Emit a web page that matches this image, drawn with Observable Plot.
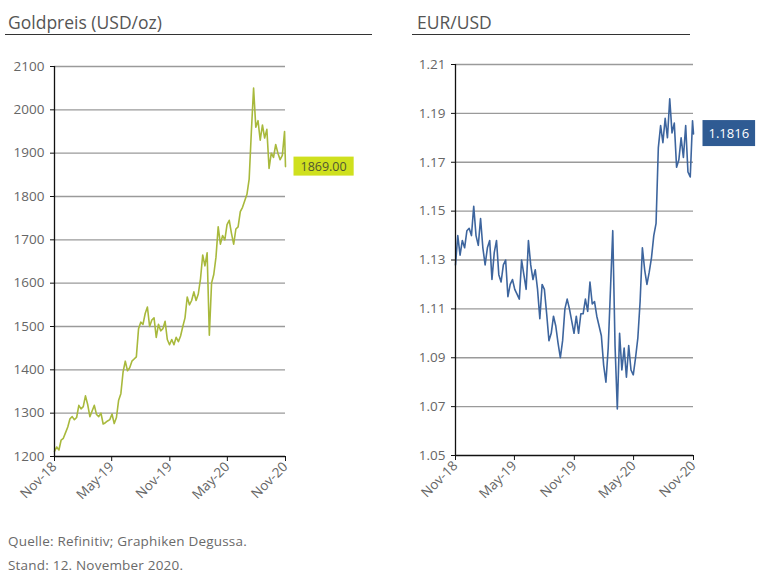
<!DOCTYPE html>
<html><head><meta charset="utf-8">
<script src="https://cdn.jsdelivr.net/npm/d3@7"></script>
<script src="https://cdn.jsdelivr.net/npm/@observablehq/plot@0.6"></script>
<style>
body{margin:0;background:#fff;font-family:"Open Sans",sans-serif;}
#page{position:relative;width:775px;height:585px;overflow:hidden;background:#fff;}
.title{position:absolute;top:10px;font-size:17.5px;color:#555;border-bottom:1.5px solid #333;line-height:24px;padding-left:3px;box-sizing:border-box;}
.chart{position:absolute;top:0;}
.foot{position:absolute;left:8px;font-size:13.5px;color:#6a6a6a;line-height:16px;letter-spacing:0.2px;}
</style></head>
<body><div id="page">
<div class="title" style="left:5px;width:367px;">Goldpreis (USD/oz)</div>
<div class="title" style="left:412px;width:278px;padding-left:5px;">EUR/USD</div>
<div class="chart" id="gold" style="left:0px;"></div>
<div class="chart" id="eur" style="left:380px;"></div>
<div class="foot" style="top:533px;">Quelle: Refinitiv; Graphiken Degussa.</div>
<div class="foot" style="top:557px;">Stand: 12. November 2020.</div>
</div>
<script>
// weekly observations (Mondays from 2018-11-12) plus the final value on 2020-11-12
const startDate = "2018-11-12";
const endDate = "2020-11-12";
const xTickDates = ["2018-11-12", "2019-05-12", "2019-11-12", "2020-05-12", "2020-11-12"];

const goldValues = [
 1212,1222,1215,1238,1242,1255,1268,1287,1292,1285,1290,1318,1310,1315,1340,1320,
 1292,1305,1318,1297,1292,1300,1275,1278,1282,1285,1298,1276,1290,1330,1345,1395,
 1420,1398,1405,1420,1425,1430,1495,1510,1505,1530,1545,1500,1515,1520,1475,1505,
 1490,1495,1512,1470,1458,1470,1458,1475,1465,1478,1500,1520,1568,1550,1560,1580,
 1560,1575,1610,1665,1640,1670,1480,1600,1620,1660,1730,1690,1710,1700,1735,1745,
 1715,1690,1725,1730,1765,1775,1790,1805,1840,1950,2050,1960,1975,1930,1965,1935,
 1955,1865,1900,1890,1920,1900,1885,1895,1950,1869
];
const eurValues = [
 1.128,1.140,1.132,1.138,1.135,1.142,1.143,1.140,1.152,1.140,1.136,1.147,1.135,1.128,1.135,1.138,
 1.122,1.133,1.138,1.124,1.121,1.128,1.130,1.115,1.120,1.122,1.118,1.116,1.114,1.130,1.124,1.118,
 1.138,1.128,1.122,1.126,1.118,1.106,1.120,1.118,1.108,1.097,1.100,1.107,1.103,1.096,1.090,1.097,
 1.110,1.114,1.110,1.105,1.100,1.107,1.100,1.108,1.108,1.114,1.109,1.121,1.112,1.113,1.107,1.103,
 1.099,1.087,1.080,1.094,1.118,1.142,1.095,1.069,1.100,1.085,1.094,1.082,1.095,1.085,1.083,1.090,
 1.098,1.113,1.135,1.126,1.120,1.125,1.131,1.140,1.145,1.176,1.185,1.178,1.188,1.180,1.196,1.182,
 1.186,1.168,1.171,1.180,1.172,1.185,1.166,1.164,1.187,1.1816
];
const goldTicks = [1200,1300,1400,1500,1600,1700,1800,1900,2000,2100];
const eurTicks = [1.05,1.07,1.09,1.11,1.13,1.15,1.17,1.19,1.21];

const parse = d3.utcParse("%Y-%m-%d");
const weeks = d3.utcMonday.range(parse(startDate), d3.utcDay.offset(parse(endDate), -2));
const dates = [...weeks, parse(endDate)];
const goldData = goldValues.map((v, i) => ({date: dates[i], value: v}));
const eurData = eurValues.map((v, i) => ({date: dates[i], value: v}));
const fmt = d3.utcFormat("%b-%y");

function makeChart(data, ticks, opts) {
  const last = data[data.length - 1];
  const label = opts.lfmt(last.value);
  const plot = Plot.plot({
    width: opts.width, height: opts.height,
    marginLeft: opts.ml, marginRight: opts.mr, marginTop: opts.mt, marginBottom: opts.mb,
    style: {fontFamily: "Open Sans, sans-serif", fontSize: "13.5px", color: "#666", background: "transparent", overflow: "visible"},
    x: {type: "utc", domain: [parse(startDate), parse(endDate)]},
    y: {domain: [ticks[0], ticks[ticks.length - 1]]},
    marks: [
      Plot.ruleY(ticks.slice(1), {stroke: "#9a9a9a", strokeWidth: 1.3}),
      Plot.line(data, {x: "date", y: "value", stroke: opts.color, strokeWidth: 1.6}),
      Plot.ruleY([ticks[0]], {stroke: "#111", strokeWidth: 1.3}),
      Plot.ruleX([parse(startDate)], {stroke: "#111", strokeWidth: 1.3}),
      Plot.axisY({ticks: ticks, tickSize: 4, tickPadding: 6, stroke: "#111", fill: "#666", label: null, tickFormat: opts.yfmt}),
      Plot.axisX({ticks: xTickDates.map(parse), tickSize: 5, tickPadding: 3, tickRotate: -45, stroke: "#111", fill: "#666", label: null, tickFormat: fmt}),
      Plot.text([last], {x: "date", y: "value", text: () => label, dx: 15, textAnchor: "start", fill: opts.textColor, fontSize: opts.lsize})
    ]
  });
  document.getElementById(opts.id).appendChild(plot);
  const t = Array.from(plot.querySelectorAll("text")).find(e => e.textContent === label);
  if (t) {
    const b = t.getBBox();
    const r = document.createElementNS("http://www.w3.org/2000/svg", "rect");
    r.setAttribute("x", b.x - opts.px);
    r.setAttribute("y", b.y - opts.py);
    r.setAttribute("width", b.width + 2 * opts.px);
    r.setAttribute("height", b.height + 2 * opts.py);
    r.setAttribute("fill", opts.boxColor);
    if (t.getAttribute("transform")) r.setAttribute("transform", t.getAttribute("transform"));
    t.parentNode.insertBefore(r, t);
  }
}

makeChart(goldData, goldTicks, {
  id: "gold", width: 380, height: 510, ml: 54, mr: 95, mt: 66, mb: 54,
  color: "#a8b93c", boxColor: "#cfe01e", textColor: "#4f5632", lsize: 12.5, px: 7, py: 1,
  yfmt: d => String(d), lfmt: v => v.toFixed(2)
});
makeChart(eurData, eurTicks, {
  id: "eur", width: 395, height: 509, ml: 75, mr: 82, mt: 64, mb: 54,
  color: "#3d659e", boxColor: "#2f5b93", textColor: "#ffffff", lsize: 13, px: 6, py: 4,
  yfmt: d => d.toFixed(2), lfmt: v => v.toFixed(4)
});
</script>
</body></html>
